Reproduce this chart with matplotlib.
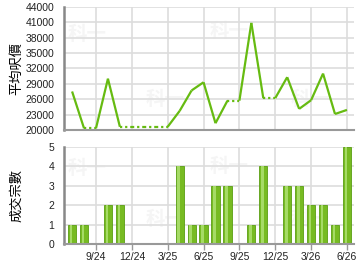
import numpy as np
import matplotlib.pyplot as plt

# monthly data, 7/24 .. 6/26 (nan = no transactions that month)
months = ["7/24", "8/24", "9/24", "10/24", "11/24", "12/24", "1/25", "2/25",
          "3/25", "4/25", "5/25", "6/25", "7/25", "8/25", "9/25", "10/25",
          "11/25", "12/25", "1/26", "2/26", "3/26", "4/26", "5/26", "6/26"]
avg_price = [27500, 20300, np.nan, 30000, 20600, np.nan, np.nan, np.nan,
             np.nan, 23700, 27700, 29300, 21300, 25700, np.nan, 40900,
             26200, np.nan, 30300, 24100, 25800, 31000, 23100, 23900]
deals = [1, 1, 0, 2, 2, 0, 0, 0, 0, 4, 1, 1, 3, 3, 0, 1, 4, 0, 3, 3, 2, 2, 1, 5]
tick_labels = ["9/24", "12/24", "3/25", "6/25", "9/25", "12/25", "3/26", "6/26"]
price_ticks = list(range(20000, 44001, 3000))

x = np.arange(len(months))
tick_pos = [months.index(m) for m in tick_labels]

plt.rcParams['font.family'] = ['Liberation Sans', 'Noto Sans CJK TC', 'DejaVu Sans']
cjk = ['Noto Sans CJK TC', 'DejaVu Sans']

green = '#66bb11'
grid_c = '#dddddd'
axis_c = '#999999'

fig = plt.figure(figsize=(3.6, 2.7), dpi=100)
ax1 = fig.add_axes([0.178, 0.519, 0.805, 0.455])
ax2 = fig.add_axes([0.178, 0.096, 0.805, 0.360])


def style(ax):
    ax.set_xlim(-0.67, 23.58)
    ax.set_xticks(tick_pos)
    ax.grid(True, color=grid_c, linewidth=1.2)
    ax.set_axisbelow(True)
    for s in ['top', 'right']:
        ax.spines[s].set_visible(False)
    ax.spines['left'].set_color('#888888')
    ax.spines['left'].set_linewidth(1.8)
    ax.spines['bottom'].set_color(axis_c)
    ax.spines['bottom'].set_linewidth(1.5)
    ax.tick_params(axis='y', length=0, pad=7, labelsize=7.5, colors='#222222')


# price line: carry the last value forward (dotted) over empty months
style(ax1)
price = np.array(avg_price)
carried = np.array(avg_price)
for i in range(1, len(carried)):
    if np.isnan(carried[i]):
        carried[i] = carried[i - 1]
for i in range(len(x) - 1):
    if np.isnan(price[i + 1]):
        ax1.plot([x[i], x[i + 1]], [carried[i], carried[i]], color=green,
                 linewidth=1.6, linestyle=(0, (1, 1.3)), solid_capstyle='butt')
    else:
        ax1.plot([x[i], x[i + 1]], [carried[i], price[i + 1]], color=green,
                 linewidth=1.6, solid_capstyle='butt')
ax1.set_ylim(20000, 44000)
ax1.set_yticks(price_ticks)
ax1.tick_params(axis='x', length=0, labelbottom=False)
ax1.set_ylabel("平均呎價", family=cjk, fontsize=9.5)
ax1.yaxis.set_label_coords(-0.14, 0.5)

# deals bars
style(ax2)
ax2.bar(x, deals, width=0.68, color='#77bb22', edgecolor='#5a9e12', linewidth=0.6)
ax2.bar(x - 0.08, deals, width=0.22, color='#a6db66', linewidth=0)
ax2.set_ylim(0, 5)
ax2.set_yticks(range(6))
ax2.set_xticks(tick_pos)
ax2.set_xticklabels(tick_labels)
ax2.tick_params(axis='x', length=4, width=1, labelsize=7.5, pad=2,
                color=axis_c, labelcolor='#222222')
ax2.set_ylabel("成交宗數", family=cjk, fontsize=9.5)
ax2.yaxis.set_label_coords(-0.14, 0.5)

# faint watermark
for ax in (ax1, ax2):
    for (wx, wy) in [(0.08, 0.78), (0.35, 0.25), (0.57, 0.8), (0.85, 0.25)]:
        ax.text(wx, wy, "科一", transform=ax.transAxes, family=cjk,
                fontsize=14, fontweight='bold', color='#f5f5f5', zorder=0,
                ha='center', va='center')

fig.savefig("out.png", dpi=100)
